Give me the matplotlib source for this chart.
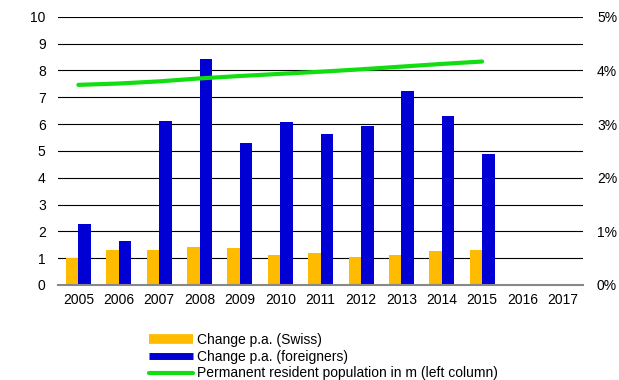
import numpy as np
import matplotlib
matplotlib.use('Agg')
import matplotlib.pyplot as plt
from matplotlib.lines import Line2D

plt.rcParams['font.family'] = ['Liberation Sans', 'DejaVu Sans']

years = ['2005', '2006', '2007', '2008', '2009', '2010', '2011', '2012',
         '2013', '2014', '2015', '2016', '2017']
# annual change in percent (right axis)
swiss_pct = [0.50, 0.65, 0.65, 0.71, 0.69, 0.56, 0.59, 0.53, 0.56, 0.63, 0.65]
foreign_pct = [1.13, 0.82, 3.05, 4.22, 2.65, 3.04, 2.81, 2.97, 3.61, 3.15, 2.45]
# permanent resident population in millions (left axis)
population = [7.46, 7.51, 7.59, 7.70, 7.79, 7.87, 7.95, 8.04, 8.14, 8.24, 8.33]

orange = '#ffbb00'
blue = '#0000d4'
green = '#11dd11'

fig = plt.figure(figsize=(6.19, 3.80), dpi=100)
ax = fig.add_axes([0.094, 0.25, 0.848, 0.706])
ax2 = ax.twinx()

x = np.arange(len(years))
n = len(swiss_pct)
w = 0.31
ax.bar(x[:n] - w / 2, swiss_pct, width=w, color=orange, zorder=2)
ax.bar(x[:n] + w / 2, foreign_pct, width=w, color=blue, zorder=2)
ax.set_ylim(0, 5)
ax.set_yticks(np.arange(0, 5.1, 0.5), minor=False)
ax.set_yticklabels(['0%', '', '1%', '', '2%', '', '3%', '', '4%', '', '5%'])
ax.yaxis.tick_right()
ax.grid(axis='y', color='black', linewidth=0.8, zorder=0)

ax2.plot(x[:n], population, color=green, linewidth=3, solid_capstyle='round')
ax2.set_ylim(0, 10)
ax2.set_yticks(range(0, 11))
ax2.yaxis.tick_left()

ax.set_xlim(-0.5, len(years) - 0.5)
ax.set_xticks(x)
ax.set_xticklabels(years)

for a in (ax, ax2):
    for s in a.spines.values():
        s.set_visible(False)
    a.tick_params(length=0, labelsize=10)
ax.spines['bottom'].set_visible(True)
ax.spines['bottom'].set_color('#888888')
ax.spines['bottom'].set_linewidth(1.5)
ax.tick_params(axis='x', pad=6)
ax.tick_params(axis='y', pad=10)
ax2.tick_params(axis='y', pad=9)

handles = [
    Line2D([], [], color=orange, linewidth=7, solid_capstyle='butt'),
    Line2D([], [], color=blue, linewidth=5, solid_capstyle='butt'),
    Line2D([], [], color=green, linewidth=3, solid_capstyle='round'),
]
labels = ['Change p.a. (Swiss)', 'Change p.a. (foreigners)',
          'Permanent resident population in m (left column)']
fig.legend(handles, labels, loc='upper left', bbox_to_anchor=(0.24, 0.124),
           frameon=False, fontsize=10, handlelength=3.2, handletextpad=0.3,
           labelspacing=0.2, borderpad=0, borderaxespad=0)

fig.savefig('out.png', dpi=100)
